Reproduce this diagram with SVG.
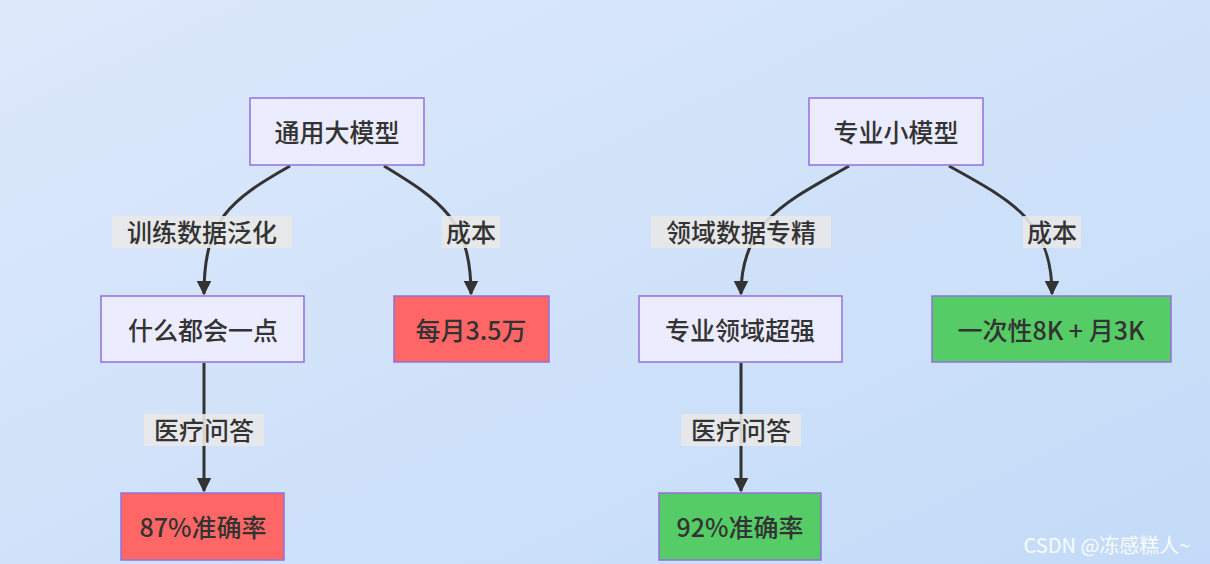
<svg xmlns="http://www.w3.org/2000/svg" width="1210" height="564" viewBox="0 0 1210 564">
<defs>
<linearGradient id="bg" x1="0" y1="0" x2="1" y2="1"><stop offset="0" stop-color="#dde9fb"/><stop offset="1" stop-color="#c3dbf8"/></linearGradient>
<marker id="ah" viewBox="0 0 10 10" refX="9" refY="5" markerWidth="5" markerHeight="5" orient="auto"><path d="M0,0 L10,5 L0,10 z" fill="#333"/></marker>
<style>
.n{fill:#ECECFF;stroke:#9370DB;stroke-width:1.5}
.r{fill:#ff6666;stroke:#9370DB;stroke-width:1.5}
.g{fill:#55cc66;stroke:#9370DB;stroke-width:1.5}
text{font-family:"Noto Sans CJK SC","Noto Sans",sans-serif;font-size:25px;font-weight:500;fill:#333;text-anchor:middle;dominant-baseline:central}
.e{fill:none;stroke:#333;stroke-width:3;marker-end:url(#ah)}
.lb{fill:#e8e8e8;opacity:0.9}
</style>
</defs>
<rect width="1210" height="564" fill="url(#bg)"/>
<g id="connectors">
<path class="e" d="M290,166 C230,200 204,220 204,294"/>
<path class="e" d="M384,166 C440,200 471,220 471,294"/>
<path class="e" d="M204,363 L204,491"/>
<path class="e" d="M849,166 C790,200 741,220 741,294"/>
<path class="e" d="M949,166 C1010,200 1052,220 1052,294"/>
<path class="e" d="M741,363 L741,491"/>
<rect class="lb" x="112" y="216" width="180" height="32"/><text x="202" y="231">训练数据泛化</text>
<rect class="lb" x="442" y="216" width="58" height="32"/><text x="471" y="231">成本</text>
<rect class="lb" x="144" y="414" width="120" height="32"/><text x="204" y="429">医疗问答</text>
<rect class="lb" x="651" y="216" width="180" height="32"/><text x="741" y="231">领域数据专精</text>
<rect class="lb" x="1023" y="216" width="58" height="32"/><text x="1052" y="231">成本</text>
<rect class="lb" x="681" y="414" width="120" height="32"/><text x="741" y="429">医疗问答</text>
</g>
<g id="n1"><rect class="n" x="250" y="98" width="174" height="67"/><text x="337" y="131">通用大模型</text></g>
<g id="n2"><rect class="n" x="101" y="296" width="203" height="66"/><text x="203" y="329">什么都会一点</text></g>
<g id="n3"><rect class="r" x="394" y="296" width="155" height="66"/><text x="471" y="329">每月3.5万</text></g>
<g id="n4"><rect class="r" x="121" y="493" width="163" height="67"/><text x="203" y="526">87%准确率</text></g>
<g id="n5"><rect class="n" x="809" y="98" width="174" height="67"/><text x="896" y="131">专业小模型</text></g>
<g id="n6"><rect class="n" x="639" y="296" width="203" height="66"/><text x="740" y="329">专业领域超强</text></g>
<g id="n7"><rect class="g" x="932" y="296" width="239" height="66"/><text x="1051" y="329">一次性8K + 月3K</text></g>
<g id="n8"><rect class="g" x="659" y="493" width="162" height="67"/><text x="740" y="526">92%准确率</text></g>
<text x="1107" y="544" style="font-size:20px;font-weight:400;fill:#fff;opacity:0.9">CSDN @冻感糕人~</text>
</svg>
